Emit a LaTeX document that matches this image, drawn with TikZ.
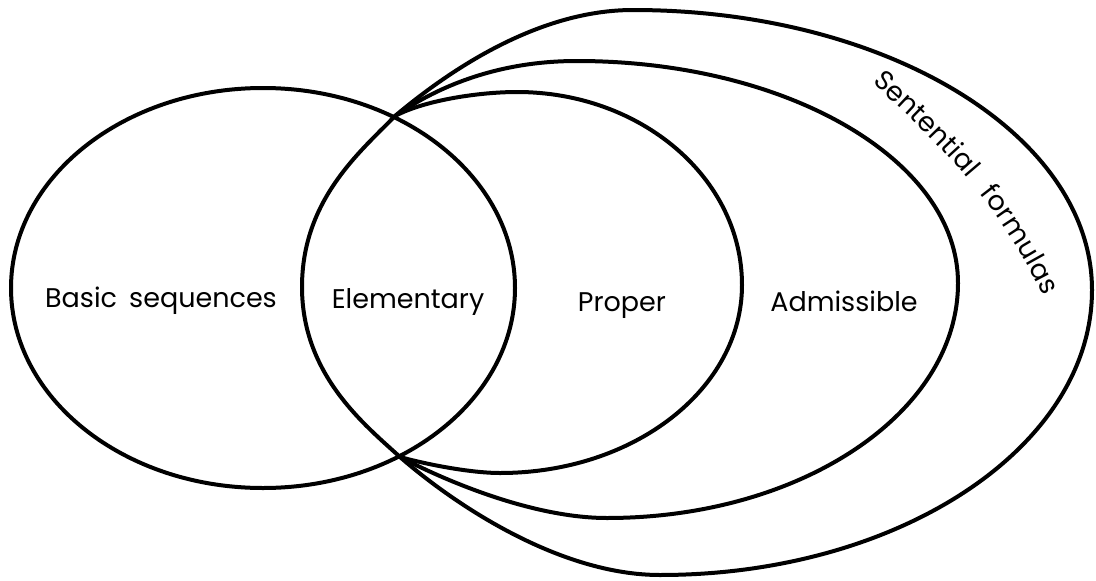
\documentclass[tikz,border=0pt]{standalone}
\usepackage{fontspec}
\setmainfont{Poppins}
\usetikzlibrary{decorations.text}
\newcommand{\setfont}{\fontsize{27}{30}\selectfont}
\begin{document}
\begin{tikzpicture}[x=1pt,y=-1pt,
  setline/.style={draw=black, line width=4pt, line join=round},
  setlabel/.style={font=\setfont, inner sep=0pt, anchor=base}]
\useasboundingbox[fill=white] (0,0) rectangle (1096,581);

% the two points where all the class boundaries meet
\coordinate (T) at (395,116);
\coordinate (B) at (400,457);

% basic sequences
\draw[setline] (263,288) ellipse [x radius=252, y radius=200];

% proper formulas (its left arc bounds the elementary ones)
\draw[setline] (T) .. controls (425,100) and (480,92) .. (517,92)
  .. controls (641,92) and (742,178) .. (742,285)
  .. controls (742,389) and (634,473) .. (500,473)
  .. controls (470,473) and (425,464) .. (B)
  .. controls (365,425) and (302,375) .. (302,287)
  .. controls (302,200) and (360,152) .. cycle;

% admissible formulas
\draw[setline] (T) .. controls (440,85) and (500,61) .. (577,61)
  .. controls (787,61) and (958,160) .. (958,283)
  .. controls (958,413) and (801,518) .. (607,518)
  .. controls (530,518) and (440,478) .. (B);

% sentential formulas
\draw[setline] (T) .. controls (452,68) and (540,10) .. (633,10)
  .. controls (887,10) and (1092,135) .. (1092,290)
  .. controls (1092,447) and (899,575) .. (660,575)
  .. controls (560,575) and (455,505) .. (B);

% labels
\node[setlabel] (basic) at (161,307) {Basic\hspace{0.45em}sequences};
\node[setlabel] (elem) at (408,308) {Elementary};
\node[setlabel] (proper) at (622,311) {Proper};
\node[setlabel] (admis) at (844,311) {Admissible};

% curved label between the two outer boundaries
\path[decorate, decoration={text along path, text={|\setfont|Sentential},
    text align={left indent=0pt}}]
  (872,83) .. controls (925,130) and (1000,200) .. (1045,300);
\path[decorate, decoration={text along path, text={|\setfont|formulas},
    text align={left indent=155pt}}]
  (872,83) .. controls (925,130) and (1000,200) .. (1045,300);
\end{tikzpicture}
\end{document}
